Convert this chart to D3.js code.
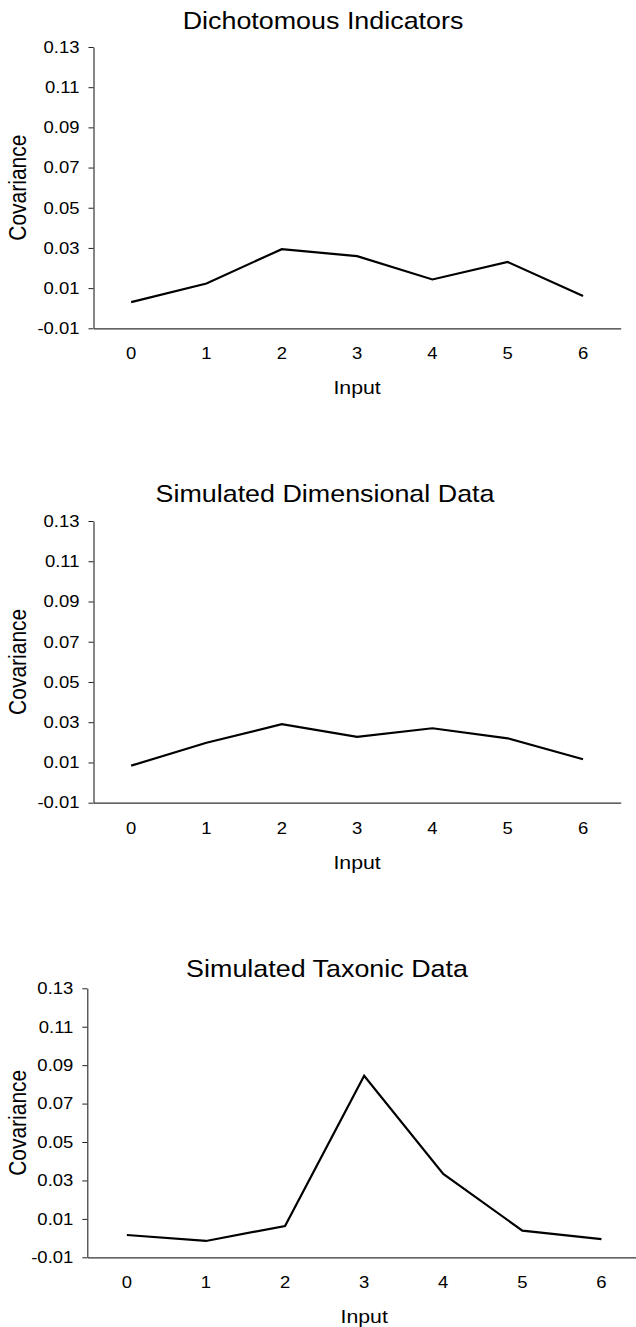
<!DOCTYPE html>
<html>
<head>
<meta charset="utf-8">
<script src="https://cdn.jsdelivr.net/npm/d3@7"></script>
<style>
  html, body { margin: 0; padding: 0; background: #fff; }
  svg { display: block; }
  text { font-family: "Liberation Sans", Arial, sans-serif; fill: #000; }
</style>
</head>
<body>
<svg id="chart" width="636" height="1327"></svg>
<script>
// ---- Data ----
const categories = [0, 1, 2, 3, 4, 5, 6];
const dichotomous = [0.0030, 0.0123, 0.0294, 0.0259, 0.0143, 0.0230, 0.0061];
const dimensional = [0.0084, 0.0198, 0.0290, 0.0227, 0.0270, 0.0220, 0.0116];
const taxonic     = [0.0016, -0.0015, 0.0063, 0.0845, 0.0334, 0.0039, -0.0005];
const yTicks = [-0.01, 0.01, 0.03, 0.05, 0.07, 0.09, 0.11, 0.13];
const yTickLabels = ["-0.01", "0.01", "0.03", "0.05", "0.07", "0.09", "0.11", "0.13"];
const titles = ["Dichotomous Indicators", "Simulated Dimensional Data", "Simulated Taxonic Data"];
const xTitle = "Input";
const yTitle = "Covariance";

// ---- Layout ----
const SX = 1.12; // horizontal stretch of the scanned original
const panels = [
  { values: dichotomous, title: titles[0], x0: 93.5, x1: 620.7, yTop: 47, yBot: 328.3, titleX: 323, titleY: 29.3 },
  { values: dimensional, title: titles[1], x0: 93.5, x1: 620.7, yTop: 521, yBot: 802.7, titleX: 325, titleY: 502.3 },
  { values: taxonic,     title: titles[2], x0: 87.3, x1: 641,   yTop: 988.3, yBot: 1257.3, titleX: 327, titleY: 976.7 }
];

const svg = d3.select("#chart");

function addText(sel, x, y, str, size, anchor, rotate) {
  return sel.append("text")
    .attr("transform", `translate(${x},${y}) scale(${SX},1)` + (rotate ? ` rotate(${rotate})` : ""))
    .attr("text-anchor", anchor)
    .style("font-size", size + "px")
    .text(str);
}

panels.forEach(p => {
  const g = svg.append("g");
  const x = d3.scaleBand().domain(categories).range([p.x0, p.x1]);
  const y = d3.scaleLinear().domain([-0.01, 0.13]).range([p.yBot, p.yTop]);

  // y axis
  const ya = g.append("g")
    .attr("transform", `translate(${p.x0},0)`)
    .call(d3.axisLeft(y).tickValues(yTicks).tickSize(5).tickSizeOuter(0)
      .tickFormat((d, i) => yTickLabels[i]));
  ya.select(".domain").attr("stroke", "#222").attr("stroke-width", 1.1);
  ya.selectAll(".tick line").attr("stroke", "#222");
  ya.selectAll(".tick text")
    .attr("x", -14 / SX)
    .attr("transform", `scale(${SX},1)`)
    .style("font-size", "16.5px")
    .style("font-family", '"Liberation Sans", Arial, sans-serif');

  // x axis
  const xa = g.append("g")
    .attr("transform", `translate(0,${p.yBot})`)
    .call(d3.axisBottom(x).tickSize(0).tickSizeOuter(0));
  xa.select(".domain").attr("stroke", "#333").attr("stroke-width", 1.2);
  xa.selectAll(".tick text")
    .attr("y", 31).attr("dy", 0)
    .attr("transform", `scale(${SX},1)`)
    .style("font-size", "16.5px")
    .style("font-family", '"Liberation Sans", Arial, sans-serif');

  // line
  const line = d3.line()
    .x((d, i) => x(categories[i]) + x.bandwidth() / 2)
    .y(d => y(d));
  g.append("path")
    .datum(p.values)
    .attr("fill", "none")
    .attr("stroke", "#000")
    .attr("stroke-width", 2.2)
    .attr("stroke-linejoin", "miter")
    .attr("d", line);

  // titles
  addText(g, p.titleX, p.titleY, p.title, 24, "middle");
  const xc = p.x0 + x.step() * 3.5;
  addText(g, xc, p.yBot + 66, xTitle, 19, "middle");
  addText(g, 26, (p.yTop + p.yBot) / 2, yTitle, 21, "middle", -90);
});
</script>
</body>
</html>
